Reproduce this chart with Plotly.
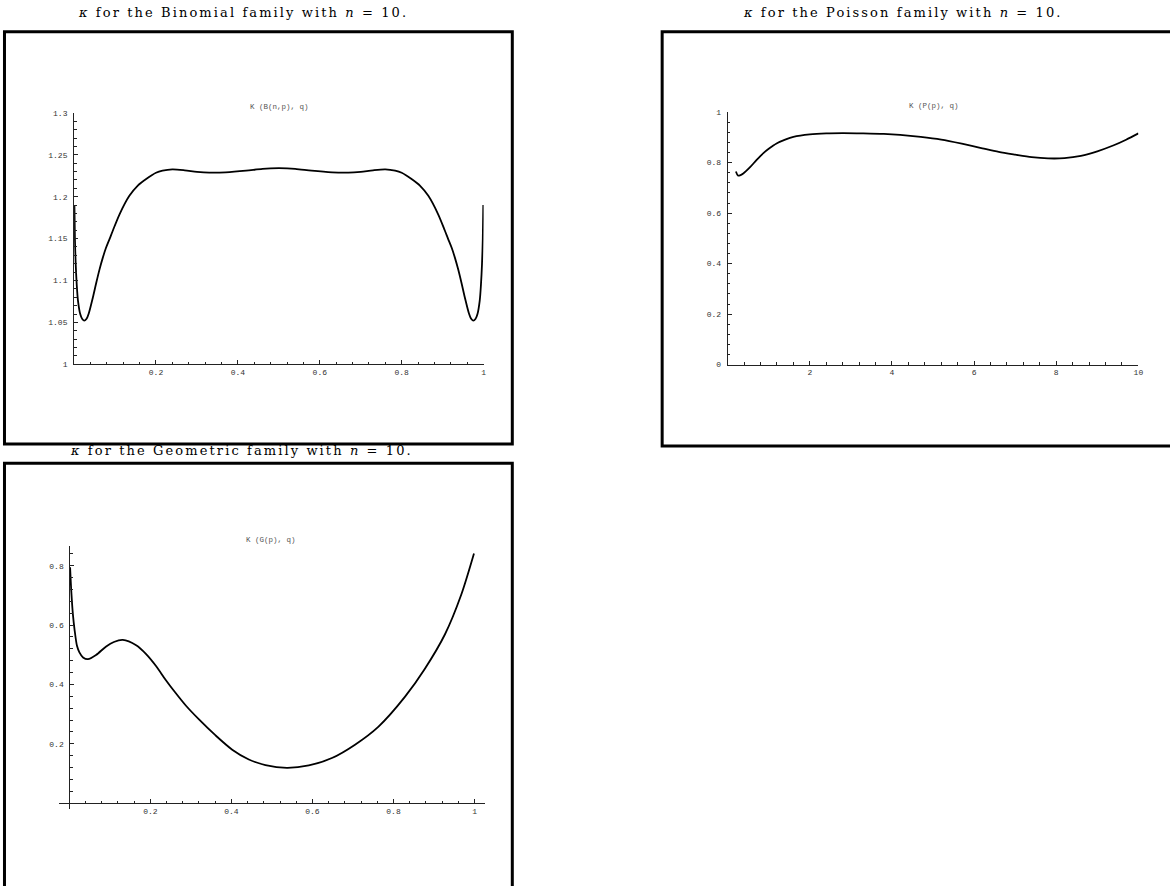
import plotly.graph_objects as go

W, H = 1170, 886

# ---------------- data ----------------
binom_p = [0.0008, 0.002, 0.004, 0.0065, 0.0095, 0.015, 0.02, 0.025, 0.03, 0.036,
           0.046, 0.054, 0.062, 0.07, 0.078, 0.087, 0.095, 0.111, 0.135, 0.155,
           0.176, 0.2, 0.216, 0.24, 0.27, 0.3, 0.33, 0.37, 0.42, 0.46, 0.5,
           0.54, 0.58, 0.63, 0.67, 0.7, 0.73, 0.76, 0.784, 0.8, 0.824, 0.845,
           0.865, 0.889, 0.905, 0.913, 0.922, 0.93, 0.938, 0.946, 0.954, 0.964,
           0.97, 0.975, 0.98, 0.985, 0.9905, 0.9935, 0.996, 0.998, 0.9992]
binom_k = [1.190, 1.150, 1.119, 1.095, 1.076, 1.060, 1.054, 1.052, 1.054, 1.061,
           1.080, 1.097, 1.113, 1.127, 1.139, 1.150, 1.160, 1.179, 1.201, 1.213,
           1.221, 1.2285, 1.231, 1.2325, 1.2315, 1.2297, 1.2287, 1.229, 1.231, 1.2333, 1.234,
           1.2333, 1.231, 1.229, 1.2287, 1.2297, 1.2315, 1.2325, 1.231, 1.2285, 1.221, 1.213,
           1.201, 1.179, 1.160, 1.150, 1.139, 1.127, 1.113, 1.097, 1.080, 1.061,
           1.054, 1.052, 1.054, 1.060, 1.076, 1.095, 1.119, 1.150, 1.190]

poisson_p = [0.2, 0.25, 0.3, 0.38, 0.545, 0.7, 0.87, 1.0, 1.19, 1.4, 1.6, 2.0, 2.4,
             2.8, 3.3, 3.8, 4.2, 4.7, 5.2, 5.7, 6.2, 6.6, 7.0, 7.4, 7.8, 8.2, 8.6,
             9.0, 9.4, 9.7, 10.0]
poisson_k = [0.765, 0.749, 0.750, 0.757, 0.782, 0.810, 0.838, 0.855, 0.876, 0.891,
             0.902, 0.912, 0.916, 0.917, 0.916, 0.914, 0.910, 0.902, 0.891, 0.875,
             0.857, 0.843, 0.832, 0.822, 0.817, 0.818, 0.827, 0.845, 0.869, 0.891, 0.916]

geom_p = [0.002, 0.005, 0.009, 0.013, 0.019, 0.025, 0.034, 0.046, 0.066, 0.091,
          0.11, 0.132, 0.165, 0.189, 0.214, 0.238, 0.263, 0.288, 0.32, 0.361, 0.402,
          0.443, 0.484, 0.537, 0.591, 0.648, 0.705, 0.763, 0.828, 0.877, 0.927,
          0.967, 0.9985]
geom_k = [0.795, 0.713, 0.635, 0.585, 0.530, 0.508, 0.491, 0.485, 0.499, 0.528,
          0.543, 0.550, 0.532, 0.503, 0.462, 0.415, 0.370, 0.328, 0.282, 0.228, 0.180,
          0.147, 0.128, 0.119, 0.127, 0.152, 0.197, 0.258, 0.358, 0.452, 0.569,
          0.702, 0.841]

titles = ["<i>κ</i> for the Binomial family with <i>n</i> = 10.",
          "<i>κ</i> for the Poisson family with <i>n</i> = 10.",
          "<i>κ</i> for the Geometric family with <i>n</i> = 10."]
plot_labels = ["K (B(n,p), q)", "K (P(p), q)", "K (G(p), q)"]

b_xticks = [0.2, 0.4, 0.6, 0.8, 1]
b_xtext = ["0.2", "0.4", "0.6", "0.8", "1"]
b_yticks = [1, 1.05, 1.1, 1.15, 1.2, 1.25, 1.3]
b_ytext = ["1", "1.05", "1.1", "1.15", "1.2", "1.25", "1.3"]
p_xticks = [2, 4, 6, 8, 10]
p_xtext = ["2", "4", "6", "8", "10"]
p_yticks = [0, 0.2, 0.4, 0.6, 0.8, 1]
p_ytext = ["0", "0.2", "0.4", "0.6", "0.8", "1"]
g_xticks = [0.2, 0.4, 0.6, 0.8, 1]
g_xtext = ["0.2", "0.4", "0.6", "0.8", "1"]
g_yticks = [0.2, 0.4, 0.6, 0.8]
g_ytext = ["0.2", "0.4", "0.6", "0.8"]

# ---------------- helpers ----------------
def px(x):
    return x / W


def py(y):
    return 1 - y / H


tickfont = dict(family="Liberation Mono, Courier New, monospace", size=8, color="#333")
axcol = "#222"


def axis(domain, rng, tv, tt, minor_dtick, minor_tick0=0, **kw):
    d = dict(domain=domain, range=rng, showgrid=False, zeroline=False,
             showline=True, linecolor=axcol, linewidth=1,
             ticks="inside", ticklen=4, tickwidth=1, tickcolor=axcol,
             tickmode="array", tickvals=tv, ticktext=tt, tickfont=tickfont,
             minor=dict(ticks="inside", ticklen=2.5, tickwidth=1, tickcolor=axcol,
                        dtick=minor_dtick, tick0=minor_tick0, showgrid=False),
             fixedrange=True)
    d.update(kw)
    return d


line = dict(color="black", width=1.8, smoothing=0.8)

fig = go.Figure()
fig.add_trace(go.Scatter(x=binom_p, y=binom_k, mode="lines", line_shape="spline",
                         line=line, xaxis="x", yaxis="y", showlegend=False))
fig.add_trace(go.Scatter(x=poisson_p, y=poisson_k, mode="lines", line_shape="spline",
                         line=line, xaxis="x2", yaxis="y2", showlegend=False))
fig.add_trace(go.Scatter(x=geom_p, y=geom_k, mode="lines", line_shape="spline",
                         line=line, xaxis="x3", yaxis="y3", showlegend=False))

# panel geometry (pixels)
b_dom_x = [px(74.4), px(485.7)]
b_dom_y = [py(364), py(110)]
p_dom_x = [px(730.8), px(1143.3)]
p_dom_y = [py(364.3), py(109.3)]
g_dom_x = [px(59.4), px(486.8)]
g_dom_y = [py(813.3), py(548)]

layout = dict(
    width=W, height=H, margin=dict(l=0, r=0, t=0, b=0),
    paper_bgcolor="white", plot_bgcolor="rgba(0,0,0,0)",
    xaxis=axis(b_dom_x, [0, 1], b_xticks, b_xtext, 0.04, anchor="y"),
    yaxis=axis(b_dom_y, [1, 1.3], b_yticks, b_ytext, 0.01, anchor="x",
               ticklabelstandoff=4),
    xaxis2=axis(p_dom_x, [0, 10], p_xticks, p_xtext, 0.4, anchor="y2"),
    yaxis2=axis(p_dom_y, [0, 1], p_yticks, p_ytext, 0.04, anchor="x2",
                ticklabelstandoff=4),
    xaxis3=axis(g_dom_x, [-0.025, 1.025], g_xticks, g_xtext, 0.04,
                anchor="free", position=py(807.3)),
    yaxis3=axis(g_dom_y, [-0.02, 0.865], g_yticks, g_ytext, 0.04,
                anchor="free", position=px(69.6), ticklabelstandoff=4),
)
fig.update_layout(**layout)

# frames
box = dict(type="rect", xref="paper", yref="paper",
           line=dict(color="black", width=3), fillcolor="rgba(0,0,0,0)", layer="above")
fig.add_shape(**box, x0=px(4.5), x1=px(514.5), y0=py(444.5), y1=py(28))
fig.add_shape(**box, x0=px(665), x1=px(1180), y0=py(446.5), y1=py(28))
fig.add_shape(**box, x0=px(4.5), x1=px(514.5), y0=py(895), y1=py(464))

title_font = dict(family="DejaVu Serif, Liberation Serif, serif", size=13, color="black")
for t, (cx, cy) in zip(titles, [(244, 9), (907, 9), (243, 451)]):
    fig.add_annotation(text='<span style="letter-spacing:2.1px">' + t + '</span>',
                       x=px(cx), y=py(cy), xref="paper", yref="paper",
                       showarrow=False, xanchor="center", yanchor="middle",
                       font=title_font)

label_font = dict(family="Liberation Mono, Courier New, monospace", size=7.5, color="#555")
for t, (cx, cy) in zip(plot_labels, [(280.5, 104), (938, 103), (272, 542)]):
    fig.add_annotation(text=t, x=px(cx), y=py(cy), xref="paper", yref="paper",
                       showarrow=False, xanchor="center", yanchor="middle",
                       font=label_font)

fig.write_html("out.html",
               config=dict(displayModeBar=False, staticPlot=True),
               post_script="document.body.style.margin='0';"
                           "document.body.style.overflow='hidden';")
